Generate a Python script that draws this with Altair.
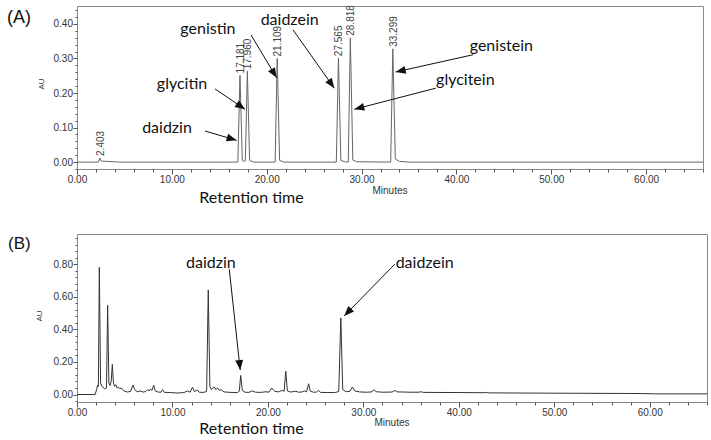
import math

import altair as alt
import pandas as pd

# ---------------------------------------------------------------------------
# (A) isoflavone standard mixture
# ---------------------------------------------------------------------------
a_time = [0.0, 2.25, 2.403, 2.55, 3.2, 4.5,
          16.96, 17.181, 17.43, 17.6, 17.75, 17.960, 18.2, 18.6,
          20.89, 21.109, 21.36, 21.8,
          27.34, 27.565, 27.82, 28.2, 28.6, 28.818, 29.08, 29.5,
          33.07, 33.299, 33.56, 34.0, 35.0, 66.0]
a_au = [0.0, 0.0, 0.012, 0.003, 0.002, 0.0,
        0.0, 0.251, 0.005, 0.002, 0.004, 0.263, 0.005, 0.0,
        0.0, 0.300, 0.005, 0.0,
        0.0, 0.301, 0.005, 0.001, 0.0, 0.360, 0.006, 0.001,
        0.0, 0.328, 0.009, 0.002, 0.0, 0.0]

# integrated peaks: retention time (min) and apex height (AU)
a_peak_rt = [2.403, 17.181, 17.960, 21.109, 27.565, 28.818, 33.299]
a_peak_au = [0.012, 0.251, 0.263, 0.300, 0.301, 0.360, 0.328]

# compound call-outs: label anchor, arrow tail and arrow tip (min, AU)
a_names = ["daidzin", "glycitin", "genistin", "daidzein", "genistein", "glycitein"]
a_text_t = [9.49, 11.07, 13.8, 22.42, 44.74, 40.94]
a_text_au = [0.083, 0.213, 0.370, 0.396, 0.322, 0.223]
a_tail_t = [13.5, 14.55, 18.35, 22.77, 41.78, 37.82]
a_tail_au = [0.090, 0.212, 0.368, 0.383, 0.311, 0.214]
a_tip_t = [16.83, 17.71, 21.05, 27.13, 33.6, 29.24]
a_tip_au = [0.063, 0.153, 0.244, 0.214, 0.261, 0.153]

# ---------------------------------------------------------------------------
# (B) sample extract
# ---------------------------------------------------------------------------
b_time = [0.0, 1.9, 2.05, 2.16, 2.24, 2.34, 2.47, 2.6, 2.9, 3.09,
          3.21, 3.34, 3.47, 3.58, 3.70, 3.82, 3.93, 4.05, 4.2, 4.35,
          4.5, 4.65, 4.9, 5.3, 5.62, 5.86, 6.05, 6.3, 6.6, 6.9,
          7.2, 7.4, 7.55, 7.7, 7.86, 8.03, 8.2, 8.5, 8.8, 8.97,
          9.15, 9.8, 10.5, 11.2, 11.6, 11.85, 12.1, 12.3, 12.6, 12.8,
          13.3, 13.58, 13.75, 13.92, 14.1, 14.38, 14.55, 14.73, 14.9, 15.08,
          15.4, 16.0, 16.8, 17.0, 17.15, 17.32, 17.6, 18.0, 18.4, 18.7,
          19.3, 19.8, 20.1, 20.4, 20.7, 21.1, 21.45, 21.7, 21.87, 22.04,
          22.4, 22.9, 23.2, 23.6, 23.85, 24.05, 24.26, 24.45, 24.8, 25.1,
          25.3, 25.5, 26.2, 27.0, 27.42, 27.64, 27.84, 28.2, 28.6, 28.85,
          29.1, 29.6, 30.3, 30.9, 31.1, 31.35, 32.0, 33.0, 33.3, 33.55,
          35.0, 35.8, 36.0, 36.3, 40.0, 42.7, 42.9, 43.2, 50.0, 55.0,
          59.0, 60.5, 66.0]
b_au = [0.0, 0.0, 0.03, 0.057, 0.05, 0.78, 0.07, 0.05, 0.035, 0.04,
        0.548, 0.07, 0.055, 0.08, 0.185, 0.07, 0.05, 0.06, 0.04, 0.045,
        0.035, 0.04, 0.022, 0.015, 0.02, 0.058, 0.03, 0.017, 0.022, 0.015,
        0.018, 0.03, 0.022, 0.033, 0.025, 0.057, 0.022, 0.015, 0.014, 0.03,
        0.013, 0.012, 0.009, 0.012, 0.022, 0.014, 0.045, 0.018, 0.028, 0.014,
        0.013, 0.02, 0.642, 0.05, 0.03, 0.047, 0.03, 0.041, 0.025, 0.03,
        0.016, 0.013, 0.012, 0.02, 0.117, 0.025, 0.014, 0.013, 0.022, 0.014,
        0.013, 0.017, 0.014, 0.04, 0.02, 0.016, 0.025, 0.02, 0.143, 0.022,
        0.015, 0.02, 0.014, 0.016, 0.022, 0.016, 0.066, 0.02, 0.014, 0.015,
        0.026, 0.013, 0.012, 0.012, 0.018, 0.47, 0.03, 0.017, 0.02, 0.046,
        0.022, 0.016, 0.014, 0.016, 0.03, 0.017, 0.014, 0.015, 0.025, 0.016,
        0.014, 0.014, 0.017, 0.013, 0.012, 0.011, 0.013, 0.010, 0.008, 0.007,
        0.006, 0.004, 0.004]

b_names = ["daidzin", "daidzein"]
b_text_t = [14.03, 36.42]
b_text_au = [0.774, 0.774]
b_tail_t = [15.95, 33.30]
b_tail_au = [0.769, 0.80]
b_tip_t = [17.10, 27.99]
b_tip_au = [0.150, 0.482]

# axis ticks
x_major = [0, 10, 20, 30, 40, 50, 60]
x_minor = list(range(0, 67, 2))
a_y_major = [0.0, 0.1, 0.2, 0.3, 0.4]
a_y_minor = [round(-0.02 + 0.02 * i, 2) for i in range(24)]
b_y_major = [0.0, 0.2, 0.4, 0.6, 0.8]
b_y_minor = [round(-0.04 + 0.04 * i, 2) for i in range(26)]

# ---------------------------------------------------------------------------
# styling
# ---------------------------------------------------------------------------
X_DOM = [0, 66]
A_W, A_H, A_YDOM = 626, 163, [-0.02, 0.452]
B_W, B_H, B_YDOM = 630, 168, [-0.046, 0.985]
FRAME = "#8a8a8a"
INK = "#111111"
LABEL_FONT = "Liberation Sans"
NOTE_FONT = "Lato"
# arrowhead pointing up with its tip on the anchor point
HEAD = "M0,0L-0.4,1L0.4,1Z"


def head_angle(t0, v0, t1, v1, kx, ky):
    dx = (t1 - t0) * kx
    dy = -(v1 - v0) * ky
    return math.degrees(math.atan2(dx, -dy)) % 360


def notes_frame(names, tt, ta, t0, v0, t1, v1, kx, ky):
    return pd.DataFrame({
        "name": names, "tx": tt, "ty": ta,
        "x0": t0, "y0": v0, "x1": t1, "y1": v1,
        "ang": [head_angle(*p, kx, ky) for p in zip(t0, v0, t1, v1)],
    })


def fixed_text(label, x, y, **kw):
    return alt.Chart(pd.DataFrame({"label": [label]})).mark_text(**kw).encode(
        x=alt.value(x), y=alt.value(y), text="label:N")


def panel(times, values, ydom, y_major, y_minor, width, height, trace_color,
          notes, panel_label, label_xy, au_xy, minutes_y, rt_y, peaks=None,
          spacer_x=None):
    xs = alt.Scale(domain=X_DOM, nice=False, zero=False)
    ys = alt.Scale(domain=ydom, nice=False, zero=False)
    trace = pd.DataFrame({"t": times, "au": values})

    line = alt.Chart(trace).mark_line(color=trace_color, strokeWidth=1).encode(
        x=alt.X("t:Q", scale=xs, axis=alt.Axis(
            values=x_major, format=".2f", orient="bottom", title=None,
            tickSize=5, labelPadding=0, grid=False)),
        y=alt.Y("au:Q", scale=ys, axis=alt.Axis(
            values=y_major, format=".2f", orient="left", title=None,
            tickSize=4, labelPadding=0.5, grid=False)),
    )
    minor = alt.Chart(trace).mark_line(opacity=0).encode(
        x=alt.X("t:Q", scale=xs, axis=alt.Axis(
            values=x_minor, orient="bottom", title=None, labels=False,
            domain=False, tickSize=3, grid=False)),
        y=alt.Y("au:Q", scale=ys, axis=alt.Axis(
            values=y_minor, orient="left", title=None, labels=False,
            domain=False, tickSize=2, grid=False)),
    )
    layers = [line, minor]

    if peaks is not None:
        layers.append(
            alt.Chart(peaks).mark_text(
                angle=270, align="left", baseline="middle", dx=2, dy=1,
                font=LABEL_FONT, fontSize=10, color="#444444").encode(
                x=alt.X("rt:Q", scale=xs, axis=None),
                y=alt.Y("au:Q", scale=ys, axis=None),
                text=alt.Text("rt:Q", format=".3f"))
        )

    layers += [
        alt.Chart(notes).mark_rule(color=INK, strokeWidth=1).encode(
            x=alt.X("x0:Q", scale=xs, axis=None),
            y=alt.Y("y0:Q", scale=ys, axis=None),
            x2="x1:Q", y2="y1:Q"),
        alt.Chart(notes).mark_point(
            shape=HEAD, filled=True, size=400, opacity=1, color=INK,
            strokeWidth=0).encode(
            x=alt.X("x1:Q", scale=xs, axis=None),
            y=alt.Y("y1:Q", scale=ys, axis=None),
            angle=alt.Angle("ang:Q", scale=None)),
        alt.Chart(notes).mark_text(
            font=NOTE_FONT, fontSize=16, color=INK, align="center",
            baseline="alphabetic").encode(
            x=alt.X("tx:Q", scale=xs, axis=None),
            y=alt.Y("ty:Q", scale=ys, axis=None),
            text="name:N"),
        fixed_text(panel_label, label_xy[0], label_xy[1], font=LABEL_FONT,
                   fontSize=label_xy[2], align="left", baseline="alphabetic",
                   color=INK),
        fixed_text("AU", au_xy[0], au_xy[1], font=LABEL_FONT, fontSize=8,
                   angle=270, align="center", baseline="middle",
                   color="#333333"),
        fixed_text("Minutes", width / 2, minutes_y, font=LABEL_FONT,
                   fontSize=10, align="center", baseline="alphabetic",
                   color="#333333"),
        fixed_text("Retention time", 174.5, rt_y, font=NOTE_FONT, fontSize=16,
                   align="center", baseline="alphabetic", color=INK),
    ]
    if spacer_x is not None:
        layers.append(fixed_text(panel_label, spacer_x, label_xy[1],
                                 font=LABEL_FONT, fontSize=label_xy[2],
                                 align="left", baseline="alphabetic",
                                 opacity=0))

    return alt.layer(*layers).properties(width=width, height=height).resolve_axis(
        x="independent", y="independent")


a_kx, a_ky = A_W / (X_DOM[1] - X_DOM[0]), A_H / (A_YDOM[1] - A_YDOM[0])
b_kx, b_ky = B_W / (X_DOM[1] - X_DOM[0]), B_H / (B_YDOM[1] - B_YDOM[0])

a_notes = notes_frame(a_names, a_text_t, a_text_au, a_tail_t, a_tail_au,
                      a_tip_t, a_tip_au, a_kx, a_ky)
b_notes = notes_frame(b_names, b_text_t, b_text_au, b_tail_t, b_tail_au,
                      b_tip_t, b_tip_au, b_kx, b_ky)
a_peaks = pd.DataFrame({"rt": a_peak_rt, "au": a_peak_au})

top = panel(a_time, a_au, A_YDOM, a_y_major, a_y_minor, A_W, A_H, "#666666",
            a_notes, "(A)", (-70, 16.5, 18), (-35, 78), 187.5, 196.5,
            peaks=a_peaks)
bottom = panel(b_time, b_au, B_YDOM, b_y_major, b_y_minor, B_W, B_H, "#333333",
               b_notes, "(B)", (-69, 15, 17), (-37, 82), 191.5, 200,
               spacer_x=-74)

chart = alt.vconcat(top, bottom, spacing=27).properties(
    padding={"left": 2, "top": 4, "right": 0, "bottom": 0},
    background="white",
).configure_view(
    stroke=FRAME, strokeWidth=1
).configure_axis(
    domainColor=FRAME, tickColor="#555555", labelFont=LABEL_FONT,
    labelFontSize=10, labelColor="#333333", labelFlush=False,
    labelOverlap=False
)

chart.save("out.html", embed_options={"renderer": "svg", "actions": False})
